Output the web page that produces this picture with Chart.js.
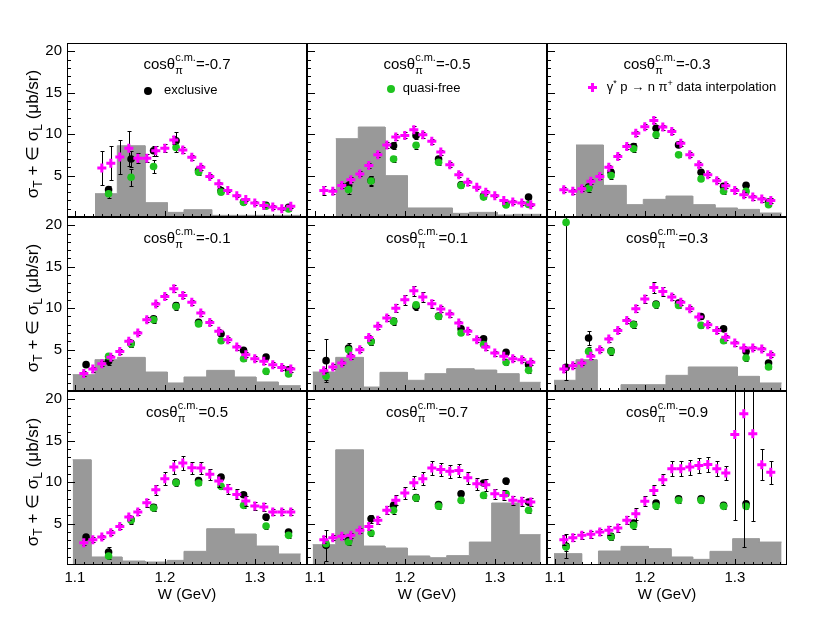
<!DOCTYPE html>
<html>
<head>
<meta charset="utf-8">
<script src="https://cdn.jsdelivr.net/npm/chart.js@4.4.1/dist/chart.umd.min.js"></script>
<style>
body { margin: 0; background: #fff; }
#wrap { position: relative; width: 830px; height: 623px; overflow: hidden; font-family: "Liberation Sans", Arial, sans-serif; color: #000; }
#wrap canvas { position: absolute; }
.pt { position: absolute; width: 240px; text-align: center; font-size: 15px; line-height: 18px; white-space: nowrap; }
.ss { position: relative; font-size: 11px; }
.sp { position: relative; top: -7.6px; }
.sb { position: absolute; left: 0; top: 5px; line-height: 13px; }
.yt { position: absolute; width: 174px; height: 20px; line-height: 20px; text-align: center; font-size: 17px; white-space: nowrap; transform: rotate(-90deg); }
.yt .sub { font-size: 12px; position: relative; top: 4px; }
.leg { position: absolute; font-size: 13px; line-height: 16px; white-space: nowrap; }
.leg .su { font-size: 9px; position: relative; top: -5px; }
.dot { position: absolute; width: 8px; height: 8px; border-radius: 50%; }
.bar { position: absolute; background: #ff00ff; }
</style>
</head>
<body>
<div id="wrap"></div>
<script>
// W values of the measured points and of the interpolation
const W_BINS = [1.1125, 1.1375, 1.1625, 1.1875, 1.2125, 1.2375, 1.2625, 1.2875, 1.3125, 1.3375];
const W_INTERP = [1.11, 1.12, 1.13, 1.14, 1.15, 1.16, 1.17, 1.18, 1.19, 1.20, 1.21, 1.22,
                  1.23, 1.24, 1.25, 1.26, 1.27, 1.28, 1.29, 1.30, 1.31, 1.32, 1.33, 1.34];
const COS_LABELS = ['-0.7', '-0.5', '-0.3', '-0.1', '0.1', '0.3', '0.5', '0.7', '0.9'];
const X_TICKS = [1.1, 1.2, 1.3];
const Y_TICKS = [5, 10, 15, 20];

// exclusive (black)
const exclusive = [
  [null, 3.3, 7.0, 8.0, 9.2, 5.6, 3.2, 1.8, 1.4, 1.17],
  [null, 3.8, 4.4, 8.6, 9.85, 7.0, 3.9, 2.57, 1.6, 2.4],
  [null, 3.6, 5.4, 8.5, 10.7, 8.7, 5.4, 3.7, 3.82, 1.8],
  [3.18, 3.58, 5.75, 8.7, 10.3, 8.3, 6.9, 4.9, 4.1, 2.57],
  [3.66, 5.19, 6.0, 8.45, 10.2, 9.05, 7.5, 6.3, 4.66, 3.18],
  [2.85, 6.4, 4.85, 8.05, 10.5, 10.6, 9.0, 7.5, 4.78, 3.38],
  [3.38, 1.57, 5.5, 6.95, 10.0, 10.2, 10.6, 8.48, 5.79, 3.98],
  [2.37, 2.97, 5.59, 7.2, 8.15, 7.3, 8.6, 9.9, 10.13, 7.6],
  [2.29, null, 3.45, 5.07, 7.48, 8.0, 8.0, 7.2, 7.4, null]
];
const exclusiveErr = [
  [0, 0.5, 1.0, 0.6, 1.0, 0.3, 0.25, 0.2, 0.2, 0.2],
  [0, 0.5, 0.5, 0.4, 0.4, 0.3, 0.3, 0.2, 0.2, 0.2],
  [0, 0.4, 0.4, 0.4, 0.4, 0.3, 0.3, 0.3, 0.3, 0.2],
  [0.3, 0.4, 0.4, 0.4, 0.4, 0.3, 0.3, 0.3, 0.3, 0.2],
  [2.6, 0.6, 0.4, 0.4, 0.4, 0.3, 0.3, 0.3, 0.3, 0.3],
  [0.3, 0.8, 0.4, 0.4, 0.4, 0.3, 0.3, 0.3, 0.3, 0.3],
  [0.3, 0.6, 0.4, 0.4, 0.4, 0.3, 0.3, 0.3, 0.3, 0.3],
  [1.9, 0.3, 0.5, 0.4, 0.4, 0.3, 0.3, 0.3, 0.3, 0.3],
  [1.5, 0, 0.4, 0.4, 0.4, 0.3, 0.3, 0.3, 0.3, 0]
];

// quasi-free (green)
const quasiFree = [
  [null, 2.8, 4.8, 6.1, 8.4, 5.4, 3.0, 1.77, 1.29, 0.97],
  [null, 3.3, 4.35, 7.0, 8.65, 6.6, 3.8, 2.4, 1.45, 1.5],
  [null, 3.46, 5.0, 8.24, 9.93, 7.5, 4.6, 3.1, 3.1, 1.49],
  [null, 4.18, 5.67, 8.6, 10.2, 8.1, 6.07, 3.9, 2.37, 2.05],
  [1.77, 4.98, 5.95, 8.4, 10.4, 9.0, 7.0, 5.6, 3.46, 2.49],
  [20.35, 4.78, 4.78, 8.0, 10.4, 10.33, 7.92, 6.07, 3.98, 2.9],
  [null, 1.09, 5.39, 6.88, 9.93, 9.9, 9.49, 7.2, 4.7, 3.58],
  [2.57, 2.77, 3.86, 6.6, 8.08, 7.1, 7.8, 8.4, 8.6, 6.6],
  [2.17, null, 3.38, 4.78, 7.12, 7.8, 7.8, 7.08, 7.08, null]
];
const quasiFreeErr = [
  [0, 0.5, 1.0, 0.8, 0.5, 0.3, 0.25, 0.2, 0.2, 0.2],
  [0, 0.5, 0.6, 0.4, 0.4, 0.3, 0.3, 0.2, 0.2, 0.2],
  [0, 0.4, 0.4, 0.4, 0.4, 0.3, 0.3, 0.3, 0.3, 0.2],
  [0, 0.4, 0.4, 0.4, 0.4, 0.3, 0.3, 0.3, 0.3, 0.2],
  [0.5, 0.5, 0.4, 0.4, 0.4, 0.3, 0.3, 0.3, 0.3, 0.3],
  [19.0, 0.5, 0.4, 0.4, 0.4, 0.3, 0.3, 0.3, 0.3, 0.3],
  [0, 0.4, 0.4, 0.4, 0.4, 0.3, 0.3, 0.3, 0.3, 0.3],
  [0.4, 0.3, 0.4, 0.4, 0.4, 0.3, 0.3, 0.3, 0.3, 0.3],
  [0.5, 0, 0.4, 0.4, 0.4, 0.3, 0.3, 0.3, 0.3, 0]
];

// gamma* p -> n pi+ data interpolation (magenta)
const interp = [
  [null, null, 5.9, 6.5, 7.24, 8.3, 7.1, 7.1, 8.0, 8.3, 9.3, 8.1, 7.2, 6.0, 4.9, 4.0, 3.2, 2.57, 2.1, 1.7, 1.4, 1.2, 1.0, 1.29],
  [3.2, 3.1, 3.8, 4.5, 5.2, 6.23, 7.5, 8.7, 9.65, 9.85, 10.53, 9.93, 9.13, 7.84, 6.3, 5.1, 4.2, 3.6, 3.0, 2.57, 2.0, 1.8, 1.69, 1.49],
  [3.3, 3.1, 3.4, 4.3, 4.9, 6.0, 7.3, 8.5, 10.1, 10.9, 11.66, 10.86, 10.33, 8.9, 7.5, 6.3, 5.1, 4.38, 3.78, 3.2, 2.7, 2.4, 2.17, 2.0],
  [2.1, 2.65, 3.3, 4.06, 4.78, 6.0, 7.0, 8.6, 10.5, 11.4, 12.34, 11.54, 10.7, 9.4, 8.28, 7.2, 6.2, 5.3, 4.38, 3.9, 3.58, 3.18, 2.85, 2.65],
  [2.45, 2.9, 3.38, 4.18, 4.98, 6.47, 7.8, 8.8, 10.0, 11.0, 12.1, 11.34, 10.53, 9.9, 9.29, 8.2, 7.2, 6.2, 5.3, 4.58, 4.18, 3.9, 3.78, 3.46],
  [2.65, 3.06, 3.38, 4.18, 4.98, 6.27, 7.3, 8.5, 9.93, 11.1, 12.5, 12.0, 11.34, 10.7, 9.93, 8.93, 8.0, 7.3, 6.5, 5.79, 5.19, 5.19, 5.07, 4.38],
  [2.69, 3.06, 3.38, 3.9, 4.66, 5.79, 6.39, 7.52, 9.09, 10.4, 11.82, 12.3, 11.74, 11.7, 10.94, 10.13, 9.2, 8.52, 7.72, 7.12, 7.0, 6.39, 6.39, 6.39],
  [3.06, 3.3, 3.46, 3.58, 4.18, 4.66, 5.39, 6.6, 7.8, 8.68, 9.93, 10.4, 11.7, 11.54, 11.3, 11.42, 10.53, 9.81, 9.69, 8.6, 8.4, 7.8, 7.68, 7.6],
  [3.06, 3.3, 3.58, 3.7, 3.98, 4.18, 4.46, 5.39, 6.19, 7.68, 9.0, 10.3, 11.62, 11.62, 11.82, 12.0, 12.14, 11.62, 11.1, 15.76, 18.25, 15.84, 12.1, 11.2]
];
const interpErr = [
  [0, 0, 2.05, 2.05, 2.0, 2.1, 0.6, 0.5, 0.6, 0.5, 0.5, 0.35, 0.3, 0.3, 0.25, 0.2, 0.2, 0.2, 0.2, 0.2, 0.2, 0.2, 0.2, 0.2],
  [0.5, 0.3, 0.3, 0.3, 0.3, 0.3, 0.3, 0.35, 0.35, 0.35, 0.4, 0.35, 0.3, 0.3, 0.3, 0.3, 0.3, 0.2, 0.2, 0.2, 0.2, 0.2, 0.2, 0.2],
  [0.3, 0.3, 0.3, 0.3, 0.3, 0.3, 0.3, 0.3, 0.3, 0.3, 0.35, 0.3, 0.3, 0.3, 0.3, 0.3, 0.3, 0.3, 0.3, 0.3, 0.3, 0.3, 0.3, 0.3],
  [0.3, 0.3, 0.3, 0.3, 0.3, 0.3, 0.3, 0.3, 0.3, 0.35, 0.4, 0.35, 0.3, 0.3, 0.3, 0.3, 0.3, 0.3, 0.3, 0.3, 0.3, 0.3, 0.3, 0.3],
  [0.3, 0.3, 0.3, 0.3, 0.3, 0.3, 0.3, 0.4, 0.5, 0.6, 0.6, 0.6, 0.5, 0.4, 0.3, 0.3, 0.3, 0.3, 0.3, 0.3, 0.3, 0.3, 0.3, 0.3],
  [0.3, 0.3, 0.3, 0.3, 0.3, 0.3, 0.3, 0.3, 0.4, 0.5, 0.7, 0.5, 0.4, 0.3, 0.3, 0.3, 0.3, 0.3, 0.3, 0.3, 0.3, 0.3, 0.3, 0.3],
  [0.3, 0.3, 0.3, 0.3, 0.3, 0.3, 0.4, 0.5, 0.6, 0.8, 0.8, 0.8, 0.7, 0.7, 0.7, 0.7, 0.6, 0.6, 0.6, 0.5, 0.5, 0.4, 0.4, 0.4],
  [0.4, 0.3, 0.3, 0.3, 0.3, 0.4, 0.4, 0.5, 0.6, 0.7, 0.8, 0.8, 0.8, 0.8, 0.8, 0.8, 0.7, 0.7, 0.7, 0.6, 0.6, 0.5, 0.5, 0.5],
  [0.6, 0.4, 0.4, 0.4, 0.4, 0.5, 0.5, 0.5, 0.7, 0.6, 0.6, 0.7, 0.9, 0.9, 0.9, 0.9, 0.9, 0.9, 0.8, 10.3, 16.1, 10.5, 1.85, 1.4]
];

// grey histogram: bin edges (W) and contents
const histEdges = [
  [1.1224, 1.1472, 1.178, 1.2028, 1.2213, 1.2521, 1.3502],
  [1.1232, 1.1483, 1.178, 1.2028, 1.2528, 1.2717, 1.3028, 1.3213, 1.352],
  [1.1235, 1.1539, 1.1791, 1.1983, 1.2235, 1.2532, 1.278, 1.3028, 1.3272, 1.352],
  [1.0976, 1.1224, 1.1472, 1.178, 1.2028, 1.2213, 1.2465, 1.2769, 1.3013, 1.326, 1.351],
  [1.0976, 1.1232, 1.1539, 1.1724, 1.2028, 1.2224, 1.2465, 1.2769, 1.302, 1.3268, 1.351],
  [1.0991, 1.1235, 1.1469, 1.1735, 1.2235, 1.2483, 1.3028, 1.3272, 1.352],
  [1.0976, 1.118, 1.1524, 1.178, 1.2028, 1.2213, 1.2465, 1.2769, 1.3013, 1.326, 1.351],
  [1.0976, 1.1232, 1.1539, 1.178, 1.2028, 1.2276, 1.2465, 1.2717, 1.2965, 1.3268, 1.351],
  [1.0991, 1.1298, 1.1485, 1.1735, 1.2039, 1.2291, 1.2532, 1.2724, 1.2976, 1.3272, 1.352]
];
const histValues = [
  [2.81, 8.6, 1.73, 0.56, 0.88, 0.2],
  [9.45, 10.86, 4.99, 1.09, 0.44, 0.56, 0.24, 0.32],
  [8.69, 3.82, 1.49, 2.13, 2.53, 1.49, 1.09, 0.92, 0.48],
  [1.97, 3.78, 4.06, 2.29, 0.97, 1.69, 2.49, 1.69, 1.09, 0.64],
  [2.29, 4.06, 0.48, 2.25, 1.29, 2.09, 2.69, 2.53, 2.09, 1.05],
  [1.29, 3.78, 0, 0.76, 1.89, 2.9, 1.77, 0.97],
  [12.7, 0.97, 0.48, 0.36, 0.56, 1.65, 4.38, 3.74, 2.29, 1.33],
  [2.45, 13.9, 2.29, 2.05, 1.09, 0.88, 1.13, 2.77, 7.48, 3.66],
  [1.37, 0, 1.69, 2.25, 1.97, 0.97, 0.68, 1.65, 3.18, 2.77]
];

const GREEN = '#1fc41f';
const MAGENTA = '#ff00ff';
const GREY = '#999999';
const FONT = '"Liberation Sans", Arial, sans-serif';

const COL_LEFT = [67, 307, 547];
const ROW_TOP = [43, 217, 391];
const PANEL_W = 240, PANEL_H = 174, M = 20;

Chart.defaults.font.family = FONT;
Chart.defaults.color = '#000';

function pointData(xs, ys, errs) {
  const out = [];
  for (let i = 0; i < xs.length; i++) {
    if (ys[i] === null) continue;
    out.push({ x: xs[i], y: ys[i], err: errs[i] });
  }
  return out;
}

function histData(edges, vals) {
  const out = [];
  for (let i = 0; i < vals.length; i++) {
    out.push({ x: edges[i], y: vals[i] }, { x: edges[i + 1], y: vals[i] });
  }
  return out;
}

// vertical error bars with small caps, drawn just under each dataset's markers
const errorBars = {
  id: 'errorBars',
  beforeDatasetDraw(chart, args) {
    const ds = chart.data.datasets[args.index];
    if (!ds.errorBars) return;
    const { ctx, chartArea: a, scales: { x, y } } = chart;
    ctx.save();
    ctx.beginPath();
    ctx.rect(a.left, a.top, a.width, a.height);
    ctx.clip();
    ctx.strokeStyle = '#000';
    ctx.lineWidth = 1;
    ctx.beginPath();
    ds.data.forEach(d => {
      if (!d.err) return;
      const px = Math.round(x.getPixelForValue(d.x)) + 0.5;
      const y1 = Math.round(y.getPixelForValue(d.y + d.err)) + 0.5;
      const y2 = Math.round(y.getPixelForValue(d.y - d.err)) + 0.5;
      ctx.moveTo(px, y1); ctx.lineTo(px, y2);
      ctx.moveTo(px - 2, y1); ctx.lineTo(px + 2, y1);
      ctx.moveTo(px - 2, y2); ctx.lineTo(px + 2, y2);
    });
    ctx.stroke();
    ctx.restore();
  }
};

// ROOT-like frame with inward ticks
const frame = {
  id: 'frame',
  afterDraw(chart) {
    const { ctx, chartArea: a, scales: { x, y } } = chart;
    ctx.save();
    ctx.strokeStyle = '#000';
    ctx.lineWidth = 1;
    ctx.strokeRect(a.left + 0.5, a.top + 0.5, a.width - 1, a.height - 1);
    ctx.beginPath();
    for (let v = 1; v <= 20; v++) {
      const py = Math.round(y.getPixelForValue(v)) + 0.5;
      ctx.moveTo(a.left, py);
      ctx.lineTo(a.left + (v % 5 === 0 ? 8 : 4), py);
    }
    for (let i = 110; i <= 135; i++) {
      const px = Math.round(x.getPixelForValue(i / 100)) + 0.5;
      ctx.moveTo(px, a.bottom);
      ctx.lineTo(px, a.bottom - (i % 10 === 0 ? 6 : 3));
    }
    ctx.stroke();
    ctx.restore();
  }
};

const wrap = document.getElementById('wrap');

for (let r = 0; r < 3; r++) {
  for (let c = 0; c < 3; c++) {
    const p = r * 3 + c;
    const padL = c === 0 ? 67 : M;
    const padB = r === 2 ? 57 : M;
    const canvas = document.createElement('canvas');
    canvas.width = padL + PANEL_W + M;
    canvas.height = M + PANEL_H + padB;
    canvas.style.left = (COL_LEFT[c] - padL) + 'px';
    canvas.style.top = (ROW_TOP[r] - M) + 'px';
    wrap.appendChild(canvas);

    new Chart(canvas, {
      type: 'scatter',
      data: {
        datasets: [
          {
            label: 'data interpolation',
            data: pointData(W_INTERP, interp[p], interpErr[p]),
            errorBars: true,
            pointStyle: 'cross',
            pointRadius: 4.5,
            pointBorderWidth: 3,
            pointBorderColor: MAGENTA,
            pointBackgroundColor: MAGENTA,
            order: 0
          },
          {
            label: 'quasi-free',
            data: pointData(W_BINS, quasiFree[p], quasiFreeErr[p]),
            errorBars: true,
            pointRadius: 3.8,
            pointBorderWidth: 0,
            pointBackgroundColor: GREEN,
            order: 1
          },
          {
            label: 'exclusive',
            data: pointData(W_BINS, exclusive[p], exclusiveErr[p]),
            errorBars: true,
            pointRadius: 3.8,
            pointBorderWidth: 0,
            pointBackgroundColor: '#000',
            order: 2
          },
          {
            label: 'histogram',
            data: histData(histEdges[p], histValues[p]),
            showLine: true,
            fill: 'origin',
            tension: 0,
            borderColor: GREY,
            backgroundColor: GREY,
            borderWidth: 1,
            pointRadius: 0,
            order: 3
          }
        ]
      },
      options: {
        responsive: false,
        animation: false,
        events: [],
        layout: { padding: { left: c === 0 ? 0 : M, top: M, right: M, bottom: r === 2 ? 0 : M } },
        plugins: { legend: { display: false }, tooltip: { enabled: false } },
        scales: {
          x: {
            type: 'linear',
            min: 1.0913,
            max: 1.358,
            display: r === 2,
            grid: { display: false, drawTicks: false },
            border: { display: false },
            ticks: { font: { size: 15 }, color: '#000', padding: 4, maxRotation: 0,
                      callback: v => v.toFixed(1) },
            title: { display: true, text: 'W (GeV)', font: { size: 15 }, color: '#000',
                     padding: { top: 0, bottom: 18 } },
            afterBuildTicks: s => { s.ticks = X_TICKS.map(v => ({ value: v })); },
            afterFit: s => {
              s.height = s.options.display ? 57 : 0;
              s.paddingLeft = s.paddingRight = s.paddingTop = s.paddingBottom = 0;
            }
          },
          y: {
            type: 'linear',
            min: 0,
            max: 21,
            display: c === 0,
            grid: { display: false, drawTicks: false },
            border: { display: false },
            ticks: { font: { size: 15 }, color: '#000', padding: 5 },
            afterBuildTicks: s => { s.ticks = Y_TICKS.map(v => ({ value: v })); },
            afterFit: s => {
              s.width = s.options.display ? 67 : 0;
              s.paddingLeft = s.paddingRight = s.paddingTop = s.paddingBottom = 0;
            }
          }
        }
      },
      plugins: [errorBars, frame]
    });

    const t = document.createElement('div');
    t.className = 'pt';
    t.style.left = COL_LEFT[c] + 'px';
    t.style.top = (ROW_TOP[r] + 11.7) + 'px';
    t.innerHTML = 'cosθ<span class="ss"><span class="sp">c.m.</span><span class="sb">π</span></span>=' + COS_LABELS[p];
    wrap.appendChild(t);
  }

  const yt = document.createElement('div');
  yt.className = 'yt';
  yt.style.left = (33 - 87) + 'px';
  yt.style.top = (ROW_TOP[r] + 87 + 4 - 10) + 'px';
  yt.innerHTML = 'σ<span class="sub">T</span> + ∈ σ<span class="sub">L</span> (μb/sr)';
  wrap.appendChild(yt);
}

// legend entries spread over the top row
function addDot(cx, cy, color) {
  const d = document.createElement('div');
  d.className = 'dot';
  d.style.left = (cx - 4) + 'px';
  d.style.top = (cy - 4) + 'px';
  d.style.background = color;
  wrap.appendChild(d);
}
function addCross(cx, cy) {
  const h = document.createElement('div');
  h.className = 'bar';
  h.style.cssText = `left:${cx - 4.5}px;top:${cy - 1.5}px;width:9px;height:3px;`;
  const v = document.createElement('div');
  v.className = 'bar';
  v.style.cssText = `left:${cx - 1.5}px;top:${cy - 4.5}px;width:3px;height:9px;`;
  wrap.appendChild(h);
  wrap.appendChild(v);
}
function addText(x, top, html) {
  const d = document.createElement('div');
  d.className = 'leg';
  d.style.left = x + 'px';
  d.style.top = top + 'px';
  d.innerHTML = html;
  wrap.appendChild(d);
}
addDot(147.7, 90.7, '#000');
addText(164, 81.6, 'exclusive');
addDot(390.7, 89, GREEN);
addText(402.7, 79.9, 'quasi-free');
addCross(592.3, 87.7);
addText(606.7, 78.6, 'γ<span class="su">*</span> p → n π<span class="su">+</span> data interpolation');
</script>
</body>
</html>
